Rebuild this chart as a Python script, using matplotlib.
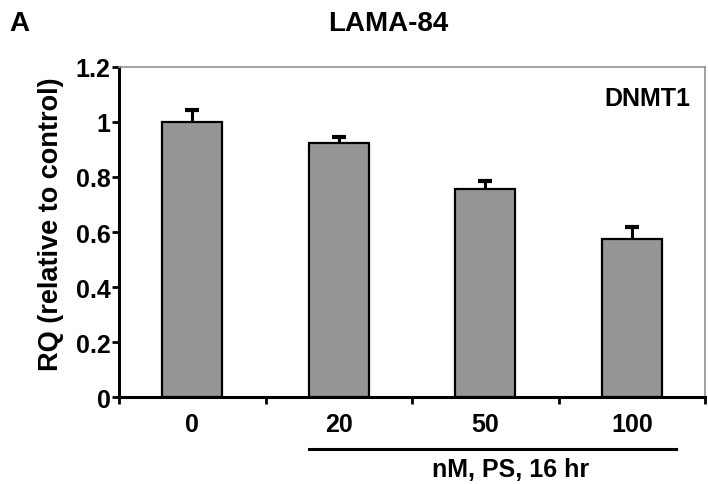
import matplotlib.pyplot as plt

plt.rcParams['font.family'] = ['Liberation Sans', 'DejaVu Sans']
plt.rcParams['font.weight'] = 'bold'

doses = ['0', '20', '50', '100']
rq = [1.0, 0.925, 0.755, 0.575]
err = [0.045, 0.02, 0.03, 0.043]

fig = plt.figure(figsize=(7.08, 4.85), dpi=100)
ax = fig.add_axes([0.168, 0.179, 0.828, 0.681])

x = list(range(len(doses)))
# error bars sit behind the bars so only the upper half shows
ax.errorbar(x, rq, yerr=err, fmt='none', ecolor='black', elinewidth=2.2,
            capsize=5, capthick=3, zorder=1)
ax.bar(x, rq, width=0.41, color='#969696', edgecolor='black', linewidth=1.6, zorder=2)

ax.set_xlim(-0.5, 3.5)
ax.set_ylim(0, 1.2)
ax.set_yticks([0, 0.2, 0.4, 0.6, 0.8, 1.0, 1.2])
ax.set_yticklabels(['0', '0.2', '0.4', '0.6', '0.8', '1', '1.2'], fontsize=18, fontweight='bold')
ax.set_xticks([-0.5, 0.5, 1.5, 2.5, 3.5])
ax.set_xticklabels([])
ax.tick_params(axis='both', direction='out', width=2, length=5, pad=1)
for i, d in enumerate(doses):
    ax.text(i, -0.055, d, ha='center', va='top', fontsize=18, fontweight='bold')

for s in ['left', 'bottom']:
    ax.spines[s].set_linewidth(2.2)
for s in ['top', 'right']:
    ax.spines[s].set_color('#909090')
    ax.spines[s].set_linewidth(1.2)

fig.text(51 / 708, 1 - 224 / 485, 'RQ (relative to control)', rotation=90, ha='center', va='center',
         fontsize=19.5, fontweight='bold')
ax.text(0.975, 0.905, 'DNMT1', transform=ax.transAxes, ha='right', va='center',
        fontsize=18, fontweight='bold')

# bracket line under treated doses
ax.plot([0.8, 3.3], [-0.19, -0.19], color='black', linewidth=2.2, clip_on=False)
fig.text(511 / 708, 1 - 470 / 485, 'nM, PS, 16 hr', ha='center', va='center',
         fontsize=18, fontweight='bold')

fig.text(388 / 708, 1 - 24 / 485, 'LAMA-84', ha='center', va='center', fontsize=20, fontweight='bold')
fig.text(9 / 708, 1 - 24 / 485, 'A', ha='left', va='center', fontsize=20, fontweight='bold')

plt.savefig('out.png', dpi=100)
